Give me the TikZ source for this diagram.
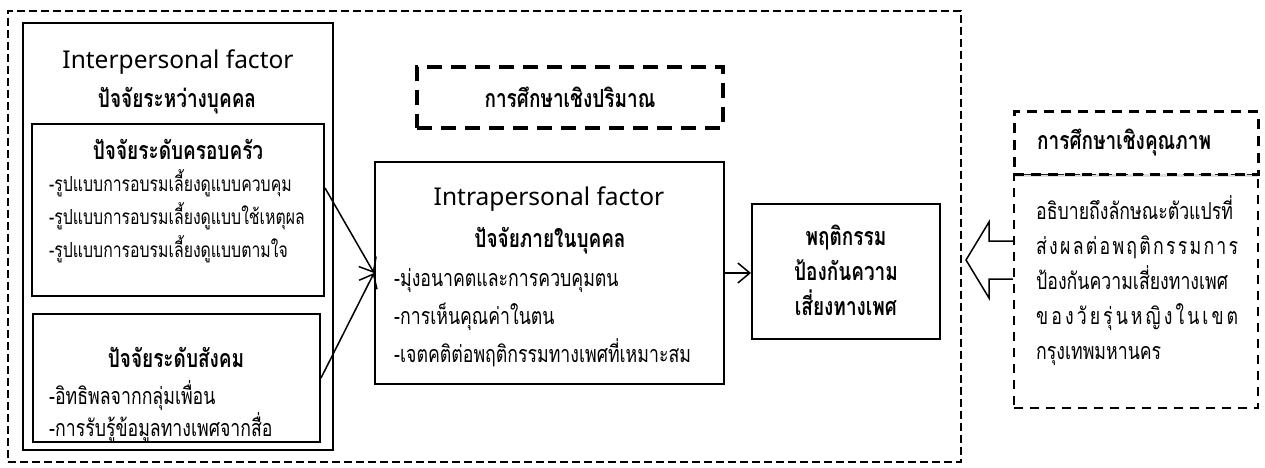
\documentclass[tikz,border=0pt]{standalone}
\usepackage{fontspec}
\setmainfont[Script=Thai,FakeStretch=0.76]{Loma}
\newfontfamily\latinfont{Noto Sans}
\usetikzlibrary{arrows.meta,shadows}

\begin{document}
\begin{tikzpicture}[x=1pt,y=-1pt]
	\tikzstyle{box}=[draw,line width=2pt,inner sep=0pt];
	\tikzstyle{outerdash}=[draw,line width=2.5pt,dash pattern=on 8pt off 4pt,inner sep=0pt];
	\tikzstyle{quantdash}=[draw,line width=4pt,dash pattern=on 15pt off 9pt,inner sep=0pt];
	\tikzstyle{qualdash}=[draw,line width=3pt,dash pattern=on 10pt off 7pt,inner sep=0pt];
	\tikzstyle{bodydash}=[draw,line width=2.5pt,dash pattern=on 9pt off 7pt,inner sep=0pt];
	\tikzstyle{entitle}=[anchor=base,inner sep=0pt,font=\latinfont\fontsize{24.5}{28}\selectfont];
	\tikzstyle{thtitle}=[anchor=base,inner sep=0pt,font=\bfseries\fontsize{25}{28}\selectfont];
	\tikzstyle{item}=[anchor=base west,inner sep=0pt,font=\fontsize{23.3}{26}\selectfont];
	\tikzstyle{smallitem}=[anchor=base west,inner sep=0pt,font=\fontsize{20.8}{23}\selectfont];
	\tikzstyle{link}=[line width=1.5pt,-{Straight Barb[length=12pt,width=20pt,line width=1.5pt]}];

	\useasboundingbox (0,0) rectangle (1265,468);

	% frames
	\node[outerdash,minimum width=953,minimum height=451] (outer) at (484.5,236.5) {};
	\node[box,minimum width=310,minimum height=427] (inter) at (178,236.5) {};
	\node[box,minimum width=292,minimum height=172] (family) at (178,210) {};
	\node[box,minimum width=287,minimum height=128] (social) at (176.5,378) {};
	\node[quantdash,minimum width=306,minimum height=61] (quant) at (570,97.5) {};
	\node[box,minimum width=349,minimum height=222] (intra) at (549.5,273) {};
	\node[box,minimum width=188,minimum height=135] (behav) at (846,271.5) {};
	\node[bodydash,minimum width=244,minimum height=234] (qualbody) at (1136,291) {};
	\node[qualdash,fill=white,minimum width=244,minimum height=62,
		drop shadow={opacity=0.25,shadow xshift=0pt,shadow yshift=-3pt}] (qualhead) at (1136,143) {};

	% interpersonal
	\node[entitle] (intertitle) at (178,69) {Interpersonal factor};
	\node[thtitle] (interth) at (177,108) {ปัจจัยระหว่างบุคคล};
	\node[thtitle] (familytitle) at (178,159) {ปัจจัยระดับครอบครัว};
	\node[smallitem] (fam1) at (49,191) {-รูปแบบการอบรมเลี้ยงดูแบบควบคุม};
	\node[smallitem] (fam2) at (49,224) {-รูปแบบการอบรมเลี้ยงดูแบบใช้เหตุผล};
	\node[smallitem] (fam3) at (49,257) {-รูปแบบการอบรมเลี้ยงดูแบบตามใจ};
	\node[thtitle] (socialtitle) at (176,367) {ปัจจัยระดับสังคม};
	\node[item] (soc1) at (49,404) {-อิทธิพลจากกลุ่มเพื่อน};
	\node[item] (soc2) at (49,436) {-การรับรู้ข้อมูลทางเพศจากสื่อ};

	% quantitative
	\node[thtitle] (quanttext) at (570,107) {การศึกษาเชิงปริมาณ};

	% intrapersonal
	\node[entitle] (intratitle) at (549,205) {Intrapersonal factor};
	\node[thtitle] (intrath) at (550,247) {ปัจจัยภายในบุคคล};
	\node[item] (in1) at (394,286) {-มุ่งอนาคตและการควบคุมตน};
	\node[item] (in2) at (394,324) {-การเห็นคุณค่าในตน};
	\node[item] (in3) at (394,362) {-เจตคติต่อพฤติกรรมทางเพศที่เหมาะสม};

	% behaviour
	\node[thtitle] (beh1) at (846,245) {พฤติกรรม};
	\node[thtitle] (beh2) at (846,280) {ป้องกันความ};
	\node[thtitle] (beh3) at (846,315) {เสี่ยงทางเพศ};

	% qualitative
	\node[thtitle,anchor=base west] (qualtext) at (1037,149) {การศึกษาเชิงคุณภาพ};
	\node[item] (q1) at (1036,219) {\makebox[202pt][s]{อธิบายถึงลักษณะตัวแปรที่}};
	\node[item] (q2) at (1036,254) {\makebox[202pt][s]{ส่\hfill ง\hfill ผ\hfill ล\hfill ต่\hfill อ\hfill พ\hfill ฤ\hfill ติ\hfill ก\hfill ร\hfill ร\hfill ม\hfill ก\hfill า\hfill ร}};
	\node[item] (q3) at (1036,289) {\makebox[202pt][s]{ป้องกันความเสี่ยงทางเพศ}};
	\node[item] (q4) at (1036,324) {\makebox[202pt][s]{ข\hfill อ\hfill ง\hfill วั\hfill ย\hfill รุ่\hfill น\hfill ห\hfill ญิ\hfill ง\hfill ใ\hfill น\hfill เ\hfill ข\hfill ต}};
	\node[item] (q5) at (1036,359) {กรุงเทพมหานคร};

	% connectors
	\draw[link] ([yshift=22pt]family.east) -- (intra.west);
	\draw[link] (social.east) -- (intra.west);
	\draw[link] (intra.east) -- (intra.east -| behav.west);
	\draw[line width=1.5pt,fill=white] (qualbody.west |- 0,241) -- (989,241) -- (989,222)
		-- (966,260) -- (989,298) -- (989,279) -- (qualbody.west |- 0,279);
\end{tikzpicture}
\end{document}
